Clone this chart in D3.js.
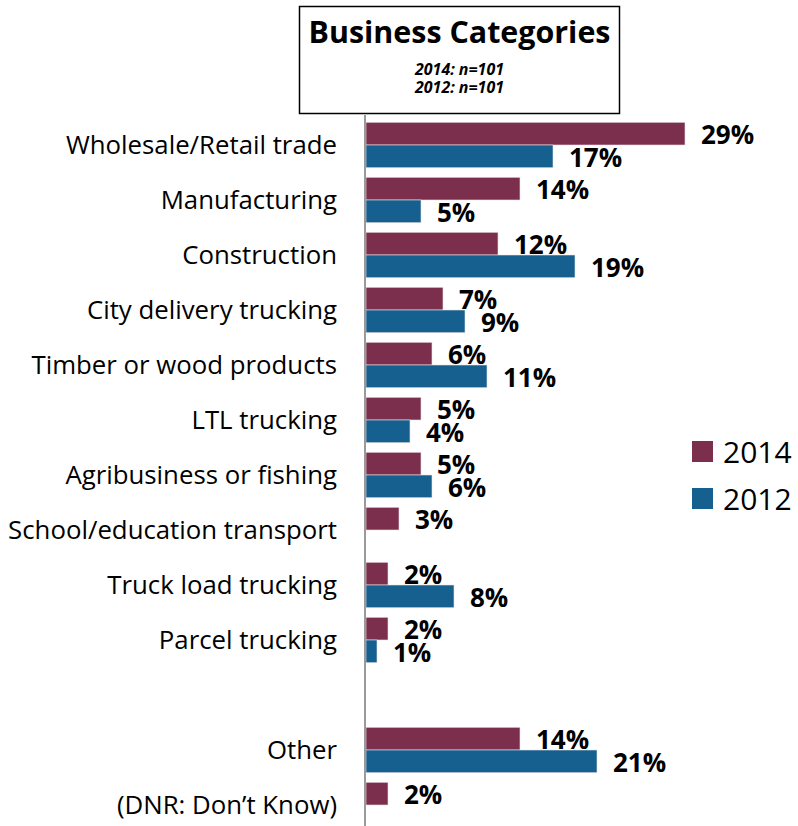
<!DOCTYPE html>
<html><head><meta charset="utf-8">
<script src="https://cdn.jsdelivr.net/npm/d3@7"></script>
<style>body{margin:0;background:#fff}svg{display:block}text{font-family:"Open Sans",sans-serif}</style>
</head><body><svg id="c" width="798" height="826"></svg>
<script>
const categories = ["Wholesale/Retail trade","Manufacturing","Construction","City delivery trucking","Timber or wood products","LTL trucking","Agribusiness or fishing","School/education transport","Truck load trucking","Parcel trucking"," ","Other","(DNR: Don\u2019t Know)"];
const series = ["2014","2012"];
const v2014 = [29,14,12,7,6,5,5,3,2,2,null,14,2];
const v2012 = [17,5,19,9,11,4,6,null,8,1,null,21,null];
const colors = ["#7C2F4D","#15608F"];
const titleText = "Business Categories";
const subtitles = ["2014: n=101","2012: n=101"];

const svg = d3.select("#c");
const FONT = "'Open Sans',sans-serif";

function fit(sel, target){
  sel.each(function(){
    const fs = parseFloat(this.getAttribute("font-size"));
    const w = this.getComputedTextLength();
    if(w>0) this.setAttribute("font-size", (fs*target/w).toFixed(2));
  });
}

const x = d3.scaleLinear().domain([0,29]).range([366,685]);
const y = d3.scaleBand().domain(categories).range([117.5,832.5]).padding(0);
const sub = d3.scaleBand().domain(series).range([0,y.bandwidth()]).paddingInner(0).paddingOuter(0.21);
const color = d3.scaleOrdinal().domain(series).range(colors);

const rows = [];
categories.forEach((c,i)=>{
  [v2014[i],v2012[i]].forEach((v,j)=>{ if(v!=null) rows.push({c, s:series[j], v}); });
});

svg.selectAll("rect.bar").data(rows).enter().append("rect").attr("class","bar")
  .attr("x",x(0)).attr("y",d=>y(d.c)+sub(d.s))
  .attr("width",d=>x(d.v)-x(0)).attr("height",sub.bandwidth())
  .attr("fill",d=>color(d.s)).attr("stroke","#e8e0e4").attr("stroke-width",0.6);

svg.selectAll("text.val").data(rows).enter().append("text").attr("class","val")
  .attr("x",d=>x(d.v)+16).attr("y",d=>y(d.c)+sub(d.s)+sub.bandwidth()/2+1.5)
  .attr("dy","0.36em").attr("font-size",26).attr("font-weight","bold").attr("fill","#000")
  .text(d=>d.v+"%");

const ax = svg.append("g").attr("transform",`translate(${x(0)-1},0)`)
  .call(d3.axisLeft(y).tickSize(0).tickSizeOuter(0).tickPadding(28));
ax.select(".domain").attr("stroke","#9a9a9a").attr("stroke-width",2)
  .attr("d", `M0,115V826`);
const tl = ax.selectAll(".tick text").attr("font-size",22).attr("fill","#000").style("font-family",FONT)
  .attr("dy","0.36em");
let maxW = 0; tl.each(function(){ maxW = Math.max(maxW, this.getComputedTextLength()); });
tl.attr("font-size", (22*329/maxW).toFixed(2));

// title box
svg.append("rect").attr("x",299.5).attr("y",6.5).attr("width",320).attr("height",107)
  .attr("fill","#fff").attr("stroke","#000").attr("stroke-width",1.5);
const tt = svg.append("text").attr("x",459.5).attr("y",43).attr("text-anchor","middle")
  .attr("font-size",30).attr("font-weight","bold").text(titleText);
fit(tt, 302);
subtitles.forEach((s,i)=>{
  const st = svg.append("text").attr("x",459.5).attr("y",75+i*18).attr("text-anchor","middle")
    .attr("font-size",15).attr("font-weight","bold").attr("font-style","italic").text(s);
  fit(st, 89);
});

// legend
const lg = svg.selectAll("g.lg").data(series).enter().append("g").attr("class","lg")
  .attr("transform",(d,i)=>`translate(692,${441+i*47})`);
lg.append("rect").attr("width",21).attr("height",21).attr("fill",d=>color(d));
lg.append("text").attr("x",31).attr("y",11.5).attr("dy","0.36em").attr("font-size",30).text(d=>d);
</script></body></html>
